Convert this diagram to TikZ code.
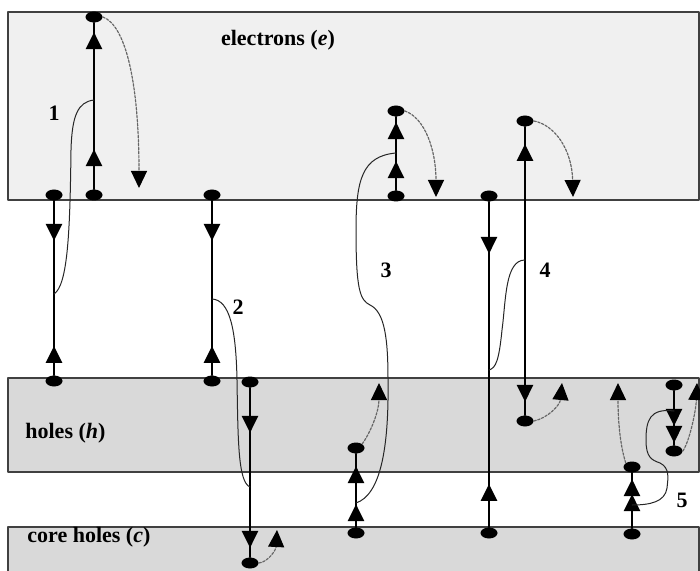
\documentclass[tikz,border=0pt]{standalone}
\usepackage{fontspec}
\setmainfont{Liberation Serif}
\usetikzlibrary{arrows.meta,shapes.geometric,decorations.markings}

\begin{document}
\begin{tikzpicture}[x=0.5pt,y=-0.5pt,line cap=round,line join=round,
  font=\fontsize{11}{13}\selectfont\bfseries,
  band/.style={draw=black!75,line width=1pt},
  tag/.style={inner sep=0pt},
  dot/.style={ellipse,fill=black,minimum width=8.5pt,minimum height=5.5pt,inner sep=0pt},
  jump/.style={line width=1.4pt},
  headfw/.style={postaction={decorate,decoration={markings,
      mark=at position #1 with {\arrow{Triangle[width=8pt,length=8.5pt]}}}}},
  headbw/.style={postaction={decorate,decoration={markings,
      mark=at position #1 with {\arrowreversed{Triangle[width=8pt,length=8.5pt]}}}}},
  relax/.style={gray!80!black,dash pattern=on 1.2pt off 0.8pt,line width=0.6pt,
      -{Triangle[width=8pt,length=8.5pt,black]}},
  link/.style={black!85,line width=0.5pt}]

  \useasboundingbox (0,0) rectangle (700,571);
  \clip (0,0) rectangle (700,571);

  % bands
  \draw[band,fill=black!6] (8,12) rectangle (699,200);
  \draw[band,fill=black!15] (8,378) rectangle (699,472);
  \draw[band,fill=black!15] (8,527) rectangle (699,590);

  \node[tag] (lbe) at (278,40) {electrons (\textit{e})};
  \node[tag,anchor=west] (lbh) at (25,433) {holes (\textit{h})};
  \node[tag,anchor=west] (lbc) at (27,537) {core holes (\textit{c})};

  % process 1
  \node[dot] (e1a) at (94,195) {};
  \node[dot] (e1b) at (94,17) {};
  \node[dot] (h1a) at (54,195) {};
  \node[dot] (h1b) at (54,381) {};
  \coordinate (k1a) at (94,100);
  \coordinate (k1b) at (54,294);
  \coordinate (r1) at (139,188);
  \draw[jump,headfw=20pt,headfw=78.5pt] (e1a) -- (e1b);
  \draw[jump,headfw=20pt,headbw=72.5pt] (h1a) -- (h1b);
  \draw[relax] (e1b.east) .. controls (125,25) and (139,80) .. (r1);
  \draw[link] (k1a) .. controls (78,102) and (72,115) .. (71,150)
    .. controls (70,230) and (68,285) .. (k1b);
  \node (n1) at (54,113) {1};

  % process 2
  \node[dot] (h2a) at (212,195) {};
  \node[dot] (h2b) at (212,381) {};
  \node[dot] (c2a) at (250,382) {};
  \node[dot] (c2b) at (250,563) {};
  \coordinate (k2a) at (212,299);
  \coordinate (k2b) at (250,487);
  \coordinate (r2) at (277,530);
  \draw[jump,headfw=20pt,headbw=72.5pt] (h2a) -- (h2b);
  \draw[jump,headfw=22.5pt,headfw=80pt] (c2a) -- (c2b);
  \draw[relax] (c2b.east) .. controls (268,562) and (276,550) .. (r2);
  \draw[link] (k2a) .. controls (230,300) and (236,330) .. (237,380)
    .. controls (238,440) and (238,482) .. (k2b);
  \node (n2) at (238,307) {2};

  % process 3
  \node[dot] (e3a) at (396,196) {};
  \node[dot] (e3b) at (396,111) {};
  \node[dot] (h3a) at (356,533) {};
  \node[dot] (h3b) at (356,448) {};
  \coordinate (k3a) at (396,153);
  \coordinate (k3b) at (356,503);
  \coordinate (r3a) at (436,197);
  \coordinate (r3b) at (379,383);
  \draw[jump,headfw=14.5pt,headfw=34pt] (e3a) -- (e3b);
  \draw[jump,headfw=11.5pt,headfw=30.5pt] (h3a) -- (h3b);
  \draw[relax] (e3b.east) .. controls (425,118) and (436,150) .. (r3a);
  \draw[relax] (h3b.north east) .. controls (372,430) and (379,410) .. (r3b);
  \draw[link] (k3a) .. controls (362,156) and (356,180) .. (356,230)
    .. controls (356,290) and (360,300) .. (370,305)
    .. controls (385,312) and (388,340) .. (388,380)
    .. controls (389,450) and (380,495) .. (k3b);
  \node (n3) at (386,270) {3};

  % process 4
  \node[dot] (h4a) at (489,196) {};
  \node[dot] (h4b) at (489,533) {};
  \node[dot] (e4a) at (525,121) {};
  \node[dot] (e4b) at (525,421) {};
  \coordinate (k4a) at (525,260);
  \coordinate (k4b) at (489,370);
  \coordinate (r4a) at (573,197);
  \coordinate (r4b) at (562,383);
  \draw[jump,headfw=26pt,headbw=141pt] (h4a) -- (h4b);
  \draw[jump,headbw=8.5pt,headfw=137.5pt] (e4a) -- (e4b);
  \draw[relax] (e4a.east) .. controls (555,125) and (572,150) .. (r4a);
  \draw[relax] (e4b.east) .. controls (548,418) and (560,405) .. (r4b);
  \draw[link] (k4a) .. controls (505,260) and (506,300) .. (502,330)
    .. controls (499,360) and (496,368) .. (k4b);
  \node (n4) at (545,270) {4};

  % process 5
  \node[dot] (h5a) at (632,534) {};
  \node[dot] (h5b) at (632,467) {};
  \node[dot] (h5c) at (674,385) {};
  \node[dot] (h5d) at (674,451) {};
  \coordinate (k5a) at (674,411);
  \coordinate (k5b) at (632,505);
  \coordinate (r5a) at (618,383);
  \coordinate (r5b) at (697,383);
  \draw[jump,headfw=17pt,headfw=24.5pt] (h5a) -- (h5b);
  \draw[jump,headfw=17.5pt,headfw=26pt] (h5c) -- (h5d);
  \draw[relax] (h5b.north west) .. controls (620,445) and (618,420) .. (r5a);
  \draw[relax] (h5d.east) .. controls (690,440) and (696,410) .. (r5b);
  \draw[link] (k5a) .. controls (650,408) and (646,420) .. (646,440)
    .. controls (646,458) and (652,460) .. (660,463)
    .. controls (670,468) and (668,478) .. (667,488)
    .. controls (665,502) and (650,505) .. (k5b);
  \node (n5) at (682,500) {5};
\end{tikzpicture}
\end{document}
